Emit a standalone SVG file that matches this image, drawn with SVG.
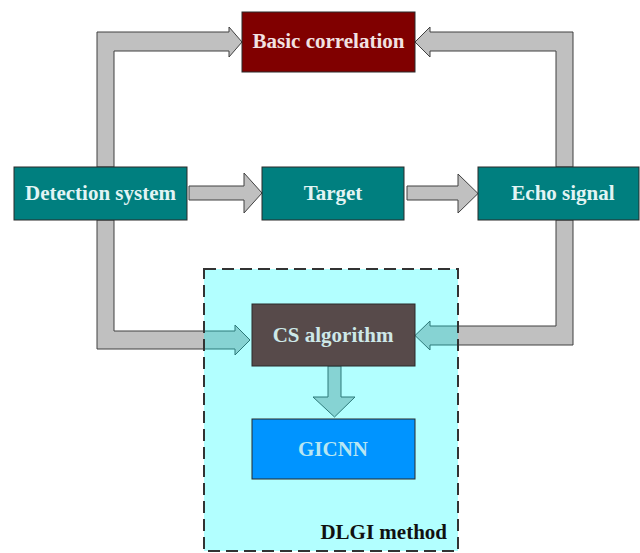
<svg xmlns="http://www.w3.org/2000/svg" width="640" height="553" viewBox="0 0 640 553">
<style>
.arrow{fill:#C0C0C0;stroke:#404040;stroke-width:1;stroke-linejoin:miter}
.box{stroke:#2a2a2a;stroke-width:1}
.lbl{font-family:"Liberation Serif","Times New Roman",serif;font-weight:bold;font-size:21px;text-anchor:middle}
</style>
<rect width="640" height="553" fill="#FFFFFF"/>
<g id="connectors">
<polygon class="arrow" points="97,167 97,32 229,32 229,27 242,42 229,57 229,51 114,51 114,167"/>
<polygon class="arrow" points="573,167 573,32 430,32 430,27 415,42 430,57 430,51 556,51 556,167"/>
<polygon class="arrow" points="97,220 97,349 235,349 235,355 250,340 235,325 235,331 114,331 114,220"/>
<polygon class="arrow" points="573,220 573,345 430,345 430,350 415,335.5 430,321 430,326 556,326 556,220"/>
<polygon class="arrow" points="189,186 244,186 244,173 262,193 244,213 244,200 189,200"/>
<polygon class="arrow" points="407,186 458,186 458,174 478,193.5 458,213 458,200 407,200"/>
<polygon class="arrow" points="328,366 341,366 341,397 355,397 334.5,417 313,397 328,397"/>
</g>
<g id="dlgi-method">
<rect x="204" y="269" width="254" height="282" fill="#00FFFF" fill-opacity="0.3" stroke="#333333" stroke-width="2" stroke-dasharray="12,6"/>
<text x="447" y="539" class="lbl" style="text-anchor:end" fill="#111111">DLGI method</text>
</g>
<g id="basic-correlation">
<rect class="box" x="242" y="12" width="173" height="60" fill="#800000"/>
<text class="lbl" x="328.5" y="48" fill="#F2E2E2">Basic correlation</text>
</g>
<g id="detection-system">
<rect class="box" x="14" y="167" width="173" height="53" fill="#007F7F"/>
<text class="lbl" x="100.5" y="200" fill="#E2F4F4">Detection system</text>
</g>
<g id="target">
<rect class="box" x="262" y="167" width="142" height="53" fill="#007F7F"/>
<text class="lbl" x="333" y="200" fill="#E2F4F4">Target</text>
</g>
<g id="echo-signal">
<rect class="box" x="478" y="167" width="161" height="53" fill="#007F7F"/>
<text class="lbl" x="563" y="200" fill="#E2F4F4">Echo signal</text>
</g>
<g id="cs-algorithm">
<rect class="box" x="252" y="304" width="163" height="62" fill="#574A4A"/>
<text class="lbl" x="333" y="342" fill="#CDE8E8">CS algorithm</text>
</g>
<g id="gicnn">
<rect class="box" x="252" y="419" width="163" height="60" fill="#0094FF"/>
<text class="lbl" x="333" y="456" fill="#B8E6F2">GICNN</text>
</g>
</svg>
